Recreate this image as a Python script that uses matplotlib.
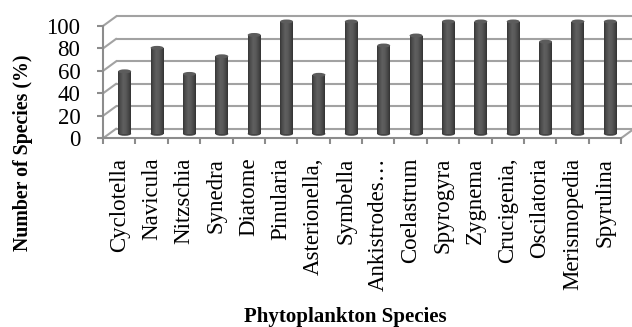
import numpy as np
import matplotlib
matplotlib.use("Agg")
import matplotlib.pyplot as plt
from matplotlib.patches import Ellipse
from matplotlib.colors import LinearSegmentedColormap

plt.rcParams['font.family'] = ['Liberation Serif', 'DejaVu Serif']

species = ["Cyclotella", "Navicula", "Nitzschia", "Synedra", "Diatome", "Pinularia",
           "Asterionella,", "Symbella", "Ankistrodes\u2026", "Coelastrum", "Spyrogyra",
           "Zygnema", "Crucigenia,", "Oscilatoria", "Merismopedia", "Spyrulina"]
percent = [55.6, 76.5, 53.3, 69.0, 88.0, 100, 52.5, 100, 78.6, 87.5, 100, 100, 100, 82.0, 100, 100]
yticks = [0, 20, 40, 60, 80, 100]
ylabel = "Number of Species (%)"
xlabel = "Phytoplankton Species"

W, H = 632, 327
fig = plt.figure(figsize=(W / 100, H / 100), dpi=100)
L, R, B0, T100 = 103, 621, 138.3, 26
ax = fig.add_axes([L / W, 1 - B0 / H, (R - L) / W, (B0 - T100) / H])
n = len(species)
x = np.arange(n)
vals = np.array(percent)
ax.set_xlim(-0.5, n - 0.5)
ax.set_ylim(0, 100)
ax.patch.set_visible(False)

# pixel -> data conversion for depth offsets
pxx = n / (R - L)
pxy = 100 / (B0 - T100)
back_dx, back_dy = 13 * pxx, 9.5 * pxy
mid_dx, mid_dy = 5.5 * pxx, 4.5 * pxy

grid_c = '#a2a2a2'
for yv in yticks:
    ax.plot([-0.5 + back_dx, n - 0.5 + back_dx], [yv + back_dy, yv + back_dy],
            color=grid_c, lw=1.5, clip_on=False, zorder=1, solid_capstyle='butt')
    ax.plot([-0.5, -0.5 + back_dx], [yv, yv + back_dy],
            color=grid_c, lw=1.5, clip_on=False, zorder=1)
ax.plot([n - 0.5, n - 0.5 + back_dx], [0, back_dy], color=grid_c, lw=1.5, clip_on=False, zorder=1)

# cylinders drawn as shaded vertical strips
cmap = LinearSegmentedColormap.from_list('cyl', ['#363636', '#4e4e4e', '#5e5e5e', '#5a5a5a', '#484848', '#323232'])
bw = 13 * pxx
eh = 4 * pxy
nstrip = 13
sw = bw / nstrip
for k in range(nstrip):
    off = -bw / 2 + (k + 0.5) * sw
    ax.bar(x + mid_dx + off, vals, width=sw * 1.05, bottom=mid_dy,
           color=cmap((k + 0.5) / nstrip), edgecolor='none', linewidth=0,
           clip_on=False, zorder=3)
for xi, v in zip(x, vals):
    cx = xi + mid_dx
    ax.add_patch(Ellipse((cx, mid_dy), bw, eh, facecolor='#444444', edgecolor='none',
                         clip_on=False, zorder=2.9))
    ax.add_patch(Ellipse((cx, v + mid_dy), bw, eh, facecolor='#5c5c5c', edgecolor='none',
                         clip_on=False, zorder=4))

ax.set_xlim(-0.5, n - 0.5)
ax.set_ylim(0, 100)

for s in ['top', 'right']:
    ax.spines[s].set_visible(False)
for s in ['left', 'bottom']:
    ax.spines[s].set_color('#8c8c8c')
    ax.spines[s].set_linewidth(1.5)
    ax.spines[s].set_zorder(2)

ax.set_yticks(yticks)
ax.set_yticklabels([str(v) for v in yticks], fontsize=16.5)
ax.tick_params(axis='y', length=4.3, width=1.5, color='#8c8c8c', pad=12)

ax.set_xticks(x)
ax.set_xticklabels(species, rotation=90, fontsize=16.5)
ax.set_xticks(np.arange(n + 1) - 0.5, minor=True)
ax.tick_params(axis='x', which='major', length=0, pad=14)
ax.tick_params(axis='x', which='minor', length=4.5, width=1.5, color='#8c8c8c')

fig.text(345 / W, 1 - 322 / H, xlabel, ha='center', va='baseline', fontsize=15, fontweight='bold')
fig.text(23 / W, 1 - 153 / H, ylabel, ha='center', va='center', rotation=90, fontsize=14.3,
         fontweight='bold')

fig.savefig('out.png', dpi=100)
